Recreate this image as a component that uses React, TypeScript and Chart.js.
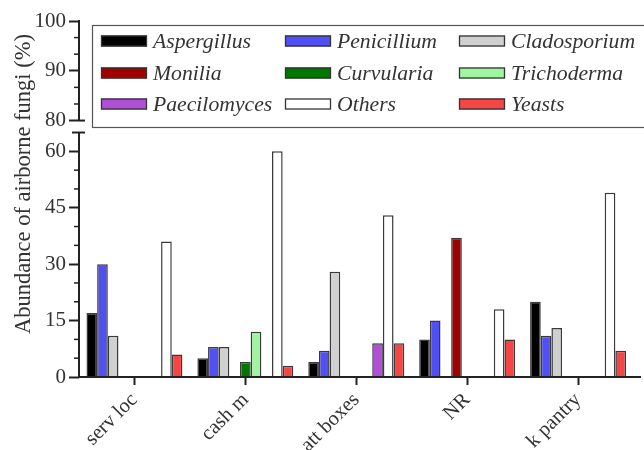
import React, { useEffect, useRef } from 'react';
import { Chart, registerables } from 'chart.js';
Chart.register(...registerables);

const categories = ['serv loc', 'cash m', 'att boxes', 'NR', 'k pantry'];
const seriesNames = ['Aspergillus', 'Penicillium', 'Cladosporium', 'Monilia', 'Curvularia', 'Trichoderma', 'Paecilomyces', 'Others', 'Yeasts'];
const aspergillus = [17, 5, 4, 10, 20];
const penicillium = [30, 8, 7, 15, 11];
const cladosporium = [11, 8, 28, 0, 13];
const monilia = [0, 0, 0, 37, 0];
const curvularia = [0, 4, 0, 0, 0];
const trichoderma = [0, 12, 0, 0, 0];
const paecilomyces = [0, 0, 9, 0, 0];
const others = [36, 60, 43, 18, 49];
const yeasts = [6, 3, 9, 10, 7];
const seriesValues = [aspergillus, penicillium, cladosporium, monilia, curvularia, trichoderma, paecilomyces, others, yeasts];
const seriesColors = ['#000000', '#5050f5', '#d0d0d0', '#a00000', '#007800', '#a0f5a0', '#b050d8', '#ffffff', '#f54545'];
const lowerTicks = [0, 15, 30, 45, 60];
const upperTicks = [80, 90, 100];
const lowerMinor = [5, 10, 20, 25, 35, 40, 50, 55];
const upperMinor = [83.333, 86.667, 93.333, 96.667];
const lowerTop = 65;
const upperBottom = 77.6;
const yTitle = 'Abundance of airborne fungi (%)';

const FONT = '"Liberation Serif", "Times New Roman", serif';
const AXIS = '#222222';

const decor = {
  id: 'decor',
  afterDraw(chart: any) {
    const ctx = chart.ctx;
    const y = chart.scales.y;
    const y2 = chart.scales.y2;
    const ca = chart.chartArea;
    const ax = ca.left;
    const line = (x1: number, y1: number, x2: number, y2p: number) => {
      ctx.beginPath();
      ctx.moveTo(x1, y1);
      ctx.lineTo(x2, y2p);
      ctx.stroke();
    };
    ctx.save();
    ctx.strokeStyle = AXIS;
    ctx.lineWidth = 2;
    // axis segments
    line(ax, y2.getPixelForValue(100) - 1, ax, y2.getPixelForValue(80));
    line(ax, y.getPixelForValue(lowerTop), ax, y.getPixelForValue(0));
    // caps of break
    line(ax - 7, y.getPixelForValue(lowerTop), ax + 6, y.getPixelForValue(lowerTop));
    line(ax, y2.getPixelForValue(80), ax + 6, y2.getPixelForValue(80));
    // x axis line
    line(ax - 1, ca.bottom, 641, ca.bottom);
    // minor ticks
    ctx.lineWidth = 1.5;
    lowerMinor.forEach((v) => {
      const p = y.getPixelForValue(v);
      line(ax - 5, p, ax, p);
    });
    upperMinor.forEach((v) => {
      const p = y2.getPixelForValue(v);
      line(ax - 5, p, ax, p);
    });
    // y title
    ctx.fillStyle = '#333333';
    ctx.font = '22.5px ' + FONT;
    ctx.textAlign = 'center';
    ctx.textBaseline = 'middle';
    ctx.translate(24.5, 184);
    ctx.rotate(-Math.PI / 2);
    ctx.fillText(yTitle, 0, 0);
    ctx.restore();

    // legend
    ctx.save();
    const bx = 92, by = 25, bw = 620, bh = 102;
    ctx.fillStyle = '#ffffff';
    ctx.fillRect(bx, by, bw, bh);
    ctx.strokeStyle = '#555555';
    ctx.lineWidth = 1.2;
    ctx.strokeRect(bx + 0.5, by + 0.5, bw, bh);
    const colX = [101, 285, 459];
    const rowY = [41, 73, 104];
    ctx.font = 'italic 21.7px ' + FONT;
    ctx.textAlign = 'left';
    ctx.textBaseline = 'middle';
    chart.data.datasets.forEach((ds: any, i: number) => {
      const cx = colX[i % 3];
      const cy = rowY[Math.floor(i / 3)];
      ctx.fillStyle = ds.backgroundColor;
      ctx.fillRect(cx, cy - 5.5, 46, 11);
      ctx.strokeStyle = '#333333';
      ctx.lineWidth = 1.3;
      ctx.strokeRect(cx + 0.5, cy - 5.5 + 0.5, 45, 10);
      ctx.fillStyle = '#333333';
      ctx.fillText(ds.label, cx + 52, cy + 1);
    });
    ctx.restore();
  },
};

export default function App() {
  const ref = useRef<HTMLCanvasElement | null>(null);
  useEffect(() => {
    document.body.style.margin = '0';
    const canvas = ref.current;
    if (!canvas) return;
    const chart = new Chart(canvas, {
      type: 'bar',
      data: {
        labels: categories,
        datasets: seriesNames.map((name, i) => ({
          label: name,
          data: seriesValues[i],
          backgroundColor: seriesColors[i],
          borderColor: '#3a3a3a',
          borderWidth: (c: any) => (c.raw === 0 ? 0 : 1.5),
          yAxisID: 'y',
          categoryPercentage: 0.865,
          barPercentage: 1,
        })),
      },
      options: {
        responsive: false,
        animation: false,
        devicePixelRatio: 1,
        layout: { padding: { top: 21, right: 10.5, left: 0, bottom: 0 } },
        plugins: { legend: { display: false }, tooltip: { enabled: false } },
        scales: {
          x: {
            type: 'category',
            grid: { display: true, drawOnChartArea: false, offset: false, tickLength: 8, tickWidth: 2, tickColor: AXIS },
            border: { display: false },
            ticks: {
              autoSkip: false,
              maxRotation: 45,
              minRotation: 45,
              padding: 3,
              color: '#333333',
              font: { family: FONT, size: 20.5 },
            },
            afterFit: (s: any) => { s.height = 73; },
          },
          y: {
            type: 'linear',
            position: 'left',
            stack: 'v',
            stackWeight: 244,
            weight: 0,
            min: 0,
            max: lowerTop,
            grid: { display: true, drawOnChartArea: false, tickLength: 10, tickWidth: 2, tickColor: AXIS },
            border: { display: false },
            ticks: { padding: 3, color: '#333333', font: { family: FONT, size: 21 } },
            afterBuildTicks: (s: any) => { s.ticks = lowerTicks.map((v) => ({ value: v })); },
            afterFit: (s: any) => { s.width = 79; },
          },
          y2: {
            type: 'linear',
            position: 'left',
            stack: 'v',
            stackWeight: 111.3,
            weight: 1,
            min: upperBottom,
            max: 100,
            grid: { display: true, drawOnChartArea: false, tickLength: 10, tickWidth: 2, tickColor: AXIS },
            border: { display: false },
            ticks: { padding: 3, color: '#333333', font: { family: FONT, size: 21 } },
            afterBuildTicks: (s: any) => { s.ticks = upperTicks.map((v) => ({ value: v })); },
            afterFit: (s: any) => { s.width = 79; },
          },
        },
      } as any,
      plugins: [decor],
    });
    return () => chart.destroy();
  }, []);
  return (
    <div style={{ width: 644, height: 450 }}>
      <canvas ref={ref} width={644} height={450} />
    </div>
  );
}
